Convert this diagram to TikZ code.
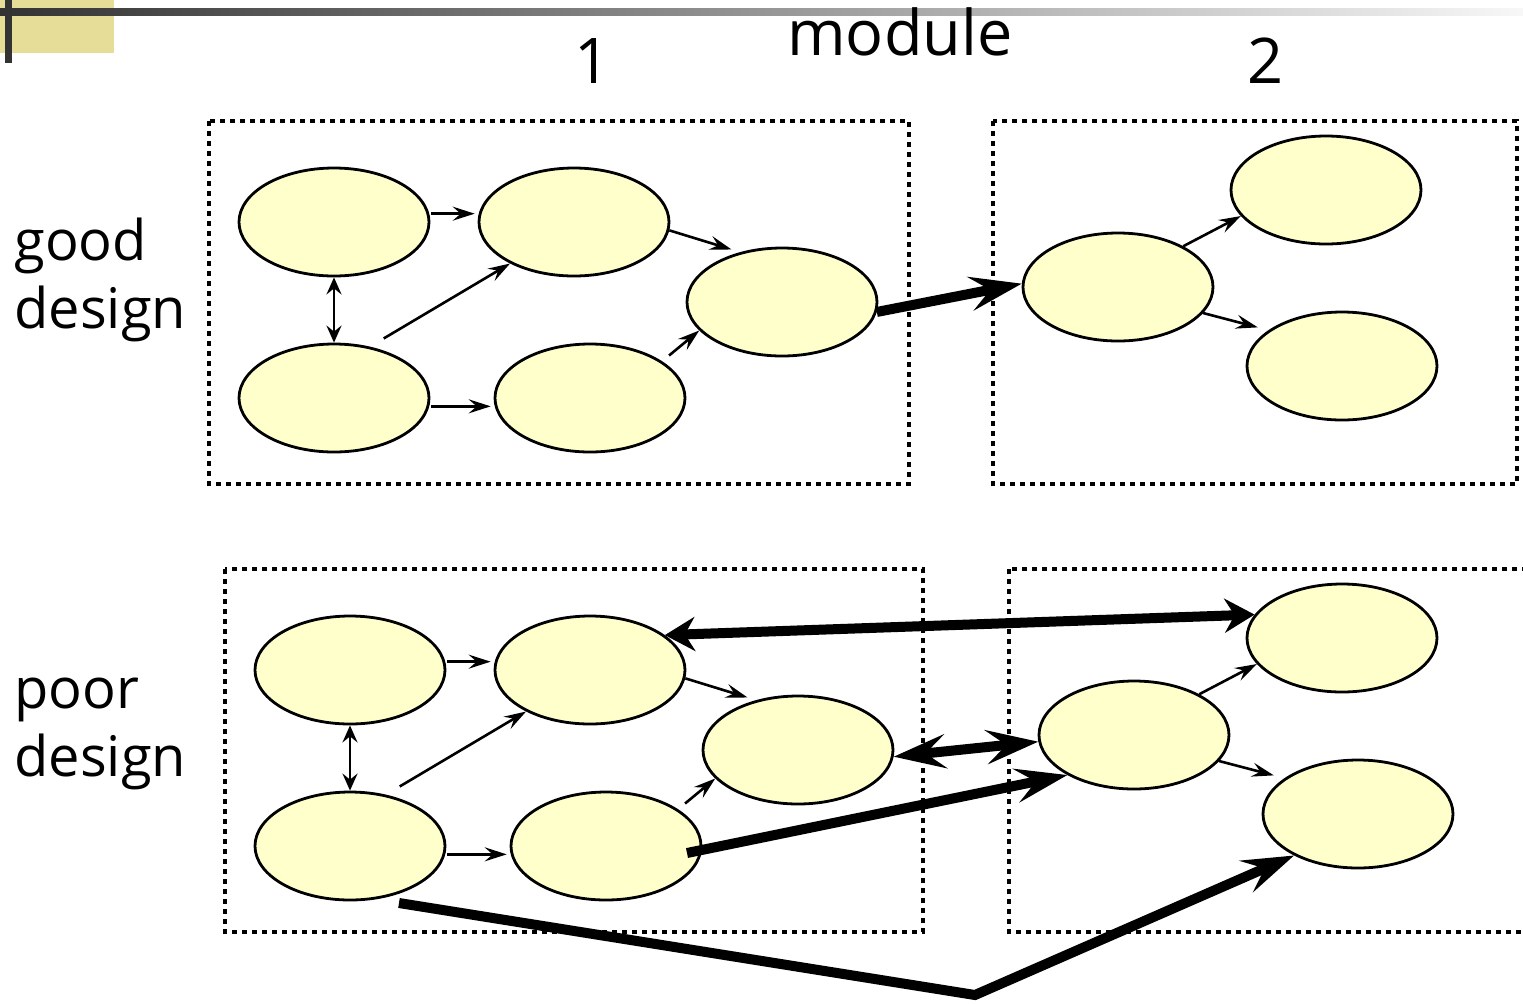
\documentclass[tikz,border=0pt]{standalone}
\usepackage{fontspec}
\setmainfont{Open Sans}
\usetikzlibrary{shapes.geometric,arrows.meta,calc}
\definecolor{nodefill}{HTML}{FFFFCC}
\definecolor{accent}{RGB}{230,222,152}
\definecolor{bardark}{HTML}{333333}
\begin{document}
\begin{tikzpicture}[x=0.5pt,y=-0.5pt,
  bubble/.style={ellipse, draw, line width=1.4pt, fill=nodefill, minimum width=95pt, minimum height=54pt, inner sep=0pt},
  modbox/.style={draw, line width=2.3pt, dash pattern=on 2.3pt off 2.7pt},
  thinarr/.style={line width=1.3pt, -{Stealth[length=11pt,width=7pt,inset=4pt]}},
  thinboth/.style={line width=1.3pt, {Stealth[length=8.5pt,width=7.5pt,inset=3pt]}-{Stealth[length=8.5pt,width=7.5pt,inset=3pt]}},
  thickarr/.style={line width=5pt, -{Stealth[length=26pt,width=17pt,inset=10pt]}},
  thickboth/.style={line width=5pt, {Stealth[length=26pt,width=17pt,inset=10pt]}-{Stealth[length=26pt,width=17pt,inset=10pt]}},
  midboth/.style={line width=5pt, {Stealth[length=15pt,width=17pt,inset=5pt]}-{Stealth[length=15pt,width=17pt,inset=5pt]}},
  sidelbl/.style={inner sep=0pt, align=left, font=\fontsize{28pt}{34pt}\selectfont},
  toplbl/.style={inner sep=0pt, font=\fontsize{31.5pt}{36pt}\selectfont}
]
\useasboundingbox (0,0) rectangle (1523,1003);
% header decoration
\fill[accent] (0,0) rectangle (114,53);
\shade[left color=bardark, middle color=black!32, right color=black!3] (0,8) rectangle (1523,15);
\fill[bardark] (5,0) rectangle (12,63);

% labels
\node[toplbl, anchor=base west] (module) at (787,55) {module};
\node[toplbl, anchor=base] (one) at (593,83) {1};
\node[toplbl, anchor=base] (two) at (1266,83) {2};
\node[sidelbl, anchor=base west] (good) at (14,328) {good\\design};
\node[sidelbl, anchor=base west] (poor) at (14,776) {poor\\design};

% module boxes
\draw[modbox] (209,121) rectangle (909,484);
\draw[modbox] (993,121) rectangle (1517,484);
\draw[modbox] (225,569) rectangle (923,932);
\draw[modbox] (1009,569) rectangle (1560,932);

% good design nodes
\node[bubble] (a1) at (334,222) {};
\node[bubble] (a2) at (574,222) {};
\node[bubble] (a3) at (782,302) {};
\node[bubble] (a4) at (334,398) {};
\node[bubble] (a5) at (590,398) {};
\node[bubble] (b1) at (1118,287) {};
\node[bubble] (b2) at (1326,190) {};
\node[bubble] (b3) at (1342,366) {};

% poor design nodes
\node[bubble] (p1) at (350,670) {};
\node[bubble] (p2) at (590,670) {};
\node[bubble] (p3) at (798,750) {};
\node[bubble] (p4) at (350,846) {};
\node[bubble] (p5) at (606,846) {};
\node[bubble] (q1) at (1134,735) {};
\node[bubble] (q2) at (1342,638) {};
\node[bubble] (q3) at (1358,814) {};

% thin connectors inside modules
\foreach \r/\s in {a/b, p/q} {
  \draw[thinarr, shorten <=1pt, shorten >=2pt] (\r1.5) -- (\r2.175);
  \draw[thinarr, shorten >=4.5pt] (\r2.-5) -- (\r3.130);
  \draw[thinarr, shorten <=1pt, shorten >=2pt] (\r4.-5) -- (\r5.185);
  \draw[thinarr, shorten <=8pt] (\r4.55) -- (\r2.213);
  \draw[thinarr, shorten <=4.5pt] (\r5.27) -- (\r3.199);
  \draw[thinboth] (\r1.south) -- (\r4.north);
  \draw[thinarr] (\s1.32) -- (\s2.197);
  \draw[thinarr, shorten >=5.5pt] (\s1.-17) -- (\s3.154);
}

% good design coupling
\draw[thickarr] (a3.-6) -- (b1.178);

% poor design couplings
\draw[midboth] (p2.25) -- (q2.165);
\draw[thickboth] (p3.-4) -- (q1.184);
\draw[thickarr] ($(p5)+(81,7)$) -- (q1.211);
\coordinate (bend) at (975,995);
\draw[thickarr, line join=miter] ($(p4)+(49,57)$) -- (bend) -- (q3.213);
\end{tikzpicture}
\end{document}
